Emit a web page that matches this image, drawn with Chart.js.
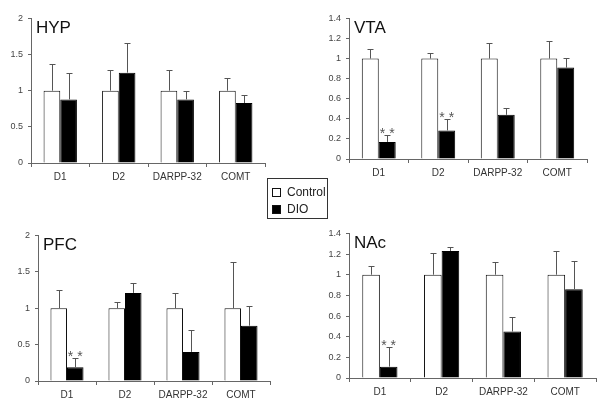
<!DOCTYPE html>
<html>
<head>
<meta charset="utf-8">
<script src="https://cdn.jsdelivr.net/npm/chart.js@4/dist/chart.umd.min.js"></script>
<style>
  body { margin: 0; background: #fff; }
  #wrap { position: relative; width: 600px; height: 414px; overflow: hidden; font-family: "Liberation Sans", Arial, sans-serif; }
  canvas { position: absolute; }
  #legend { position: absolute; left: 267px; top: 178px; width: 59px; height: 39px; border: 1px solid #333; font-size: 12px; color: #222; }
  .item { position: absolute; left: 4px; height: 12px; line-height: 12px; }
  .sw { position: absolute; left: 0; top: 1px; width: 9px; height: 9px; border: 1px solid #111; box-sizing: border-box; }
  .item span.t { position: absolute; left: 15px; top: -1px; white-space: nowrap; }
</style>
</head>
<body>
<div id="wrap">
  <canvas id="hyp"></canvas>
  <canvas id="vta"></canvas>
  <canvas id="pfc"></canvas>
  <canvas id="nac"></canvas>
  <div id="legend">
    <div class="item" style="top:8px"><div class="sw" style="background:#fff"></div><span class="t">Control</span></div>
    <div class="item" style="top:25px"><div class="sw" style="background:#000"></div><span class="t">DIO</span></div>
  </div>
</div>
<script>
var genes = ['D1', 'D2', 'DARPP-32', 'COMT'];

// HYP
var hypControl = [1, 1, 1, 1];
var hypControlErr = [0.37, 0.29, 0.29, 0.17];
var hypDIO = [0.88, 1.25, 0.88, 0.83];
var hypDIOErr = [0.37, 0.41, 0.11, 0.11];
var hypSig = [false, false, false, false];

// VTA
var vtaControl = [1, 1, 1, 1];
var vtaControlErr = [0.10, 0.055, 0.16, 0.175];
var vtaDIO = [0.17, 0.285, 0.44, 0.91];
var vtaDIOErr = [0.07, 0.115, 0.07, 0.10];
var vtaSig = [true, true, false, false];

// PFC
var pfcControl = [1, 1, 1, 1];
var pfcControlErr = [0.25, 0.09, 0.21, 0.64];
var pfcDIO = [0.19, 1.21, 0.40, 0.76];
var pfcDIOErr = [0.13, 0.14, 0.30, 0.27];
var pfcSig = [true, false, false, false];

// NAc
var nacControl = [1, 1, 1, 1];
var nacControlErr = [0.08, 0.21, 0.12, 0.23];
var nacDIO = [0.11, 1.23, 0.45, 0.86];
var nacDIOErr = [0.19, 0.035, 0.14, 0.27];
var nacSig = [true, false, false, false];

var errorBars = {
  id: 'errorBars',
  afterDatasetsDraw: function(chart) {
    var ctx = chart.ctx;
    var y = chart.scales.y;
    ctx.save();
    ctx.strokeStyle = '#555';
    ctx.lineWidth = 1;
    chart.data.datasets.forEach(function(ds, i) {
      var meta = chart.getDatasetMeta(i);
      meta.data.forEach(function(el, j) {
        var x = Math.round(el.x) + 0.5;
        var top = Math.round(y.getPixelForValue(ds.data[j] + ds.err[j])) + 0.5;
        ctx.beginPath();
        ctx.moveTo(x, el.y);
        ctx.lineTo(x, top);
        ctx.moveTo(x - 3, top);
        ctx.lineTo(x + 3, top);
        ctx.stroke();
        if (ds.sig && ds.sig[j]) {
          // significance marks above the error bar
          ctx.fillStyle = '#555';
          ctx.font = '14px "Liberation Sans", Arial, sans-serif';
          ctx.textAlign = 'center';
          ctx.textBaseline = 'alphabetic';
          ctx.fillText('* *', el.x, top + 2);
        }
      });
    });
    ctx.restore();
  }
};

var panelTitle = {
  id: 'panelTitle',
  afterDraw: function(chart) {
    var a = chart.chartArea;
    var ctx = chart.ctx;
    ctx.save();
    ctx.fillStyle = '#111';
    ctx.font = '17px "Liberation Sans", Arial, sans-serif';
    ctx.textAlign = 'left';
    ctx.textBaseline = 'alphabetic';
    ctx.fillText(chart.options.plugins.panelTitle.text, a.left + 5, a.top + 15);
    ctx.restore();
  }
};

function panel(id, title, L, T, R, B, max, step, control, controlErr, dio, dioErr, sig) {
  var c = document.getElementById(id);
  var yw = 30, xh = 28, padT = 8, padR = 4;
  c.width = Math.round(R - L + yw + padR);
  c.height = Math.round(B - T + padT + xh);
  c.style.left = Math.round(L - yw) + 'px';
  c.style.top = Math.round(T - padT) + 'px';
  new Chart(c, {
    type: 'bar',
    plugins: [errorBars, panelTitle],
    data: {
      labels: genes,
      datasets: [
        { label: 'Control', data: control, err: controlErr, backgroundColor: '#fff', borderColor: '#111', borderWidth: 1 },
        { label: 'DIO', data: dio, err: dioErr, sig: sig, backgroundColor: '#000', borderColor: '#000', borderWidth: 1 }
      ]
    },
    options: {
      responsive: false,
      animation: false,
      layout: { padding: { top: padT, right: padR, left: 0, bottom: 0 } },
      datasets: { bar: { categoryPercentage: 0.57, barPercentage: 1.0 } },
      scales: {
        x: {
          afterFit: function(s) { s.height = xh; },
          grid: { drawOnChartArea: false, drawTicks: true, tickLength: 4, color: '#666' },
          border: { color: '#666' },
          ticks: { color: '#333', padding: 4, font: { size: 10, family: '"Liberation Sans", Arial, sans-serif' } }
        },
        y: {
          min: 0,
          max: max,
          afterFit: function(s) { s.width = yw; },
          grid: { drawOnChartArea: false, drawTicks: true, tickLength: 3, color: '#666' },
          border: { color: '#666' },
          ticks: {
            stepSize: step,
            color: '#444',
            padding: 5,
            font: { size: 9, family: '"Liberation Sans", Arial, sans-serif' },
            callback: function(v) { return String(+v.toFixed(2)); }
          }
        }
      },
      plugins: {
        legend: { display: false },
        tooltip: { enabled: false },
        panelTitle: { text: title }
      }
    }
  });
}

panel('hyp', 'HYP', 31, 16, 265, 163, 2, 0.5, hypControl, hypControlErr, hypDIO, hypDIOErr, hypSig);
panel('vta', 'VTA', 349, 16, 587, 159, 1.4, 0.2, vtaControl, vtaControlErr, vtaDIO, vtaDIOErr, vtaSig);
panel('pfc', 'PFC', 38, 233, 270, 381, 2, 0.5, pfcControl, pfcControlErr, pfcDIO, pfcDIOErr, pfcSig);
panel('nac', 'NAc', 349, 231, 596, 378, 1.4, 0.2, nacControl, nacControlErr, nacDIO, nacDIOErr, nacSig);
</script>
</body>
</html>
